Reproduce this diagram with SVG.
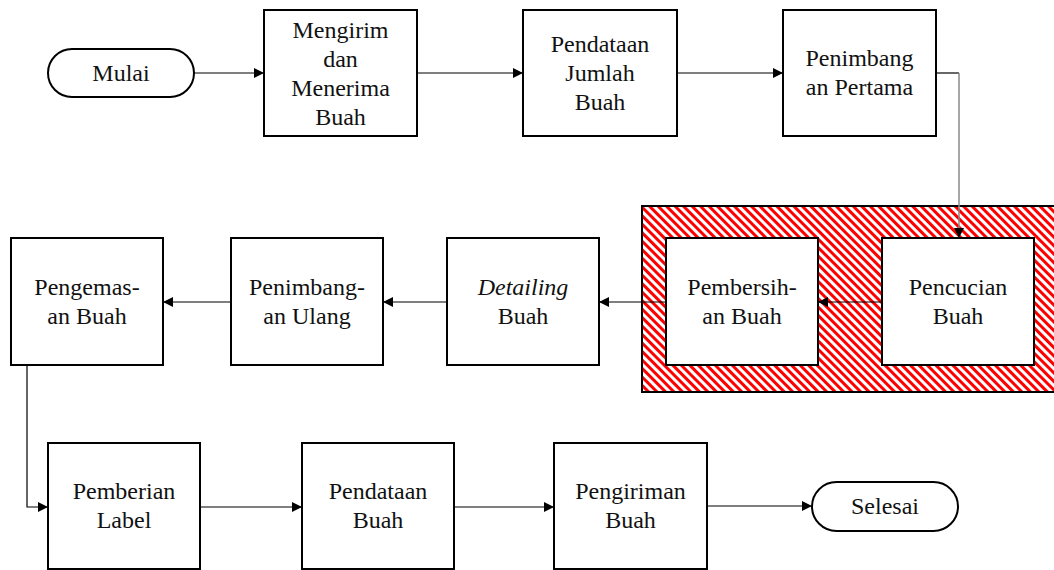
<svg xmlns="http://www.w3.org/2000/svg" width="1054" height="570" viewBox="0 0 1054 570">
<defs>
<style>
text{font-family:'Times New Roman','Liberation Serif',serif;font-size:24px;fill:#111;text-anchor:middle}
.box{fill:#fff;stroke:#000;stroke-width:2}
</style>
<marker id="ah" viewBox="0 0 10 10" refX="10" refY="5" markerWidth="10" markerHeight="10" markerUnits="userSpaceOnUse" orient="auto">
<path d="M0,0 L10,5 L0,10 z" fill="#000"/>
</marker>
<pattern id="hatch" patternUnits="userSpaceOnUse" width="6" height="6" patternTransform="rotate(-45)">
<rect width="6" height="6" fill="#fff"/>
<rect width="3" height="6" fill="#f00"/>
</pattern>
</defs>
<rect width="1054" height="570" fill="#fff"/>
<g id="group-hatch">
<rect x="642" y="206" width="420" height="186" fill="url(#hatch)" stroke="#000" stroke-width="2"/>
</g>
<g id="connectors" fill="none" stroke="#000" stroke-width="1.2">
<line x1="194" y1="73" x2="264" y2="73" marker-end="url(#ah)"/>
<line x1="417" y1="73" x2="523" y2="73" marker-end="url(#ah)"/>
<line x1="677" y1="73" x2="783" y2="73" marker-end="url(#ah)"/>
<polyline points="936,73 959,73"/>
<line x1="959" y1="73" x2="959" y2="238" stroke="#888" stroke-width="1.5" marker-end="url(#ah)"/>
<line x1="882" y1="302" x2="818" y2="302" marker-end="url(#ah)"/>
<line x1="666" y1="302" x2="599" y2="302" marker-end="url(#ah)"/>
<line x1="447" y1="302" x2="383" y2="302" marker-end="url(#ah)"/>
<line x1="231" y1="302" x2="163" y2="302" marker-end="url(#ah)"/>
<polyline points="27,365 27,507 48,507" marker-end="url(#ah)"/>
<line x1="200" y1="507" x2="302" y2="507" marker-end="url(#ah)"/>
<line x1="454" y1="507" x2="554" y2="507" marker-end="url(#ah)"/>
<line x1="707" y1="506" x2="812" y2="506" marker-end="url(#ah)"/>
</g>
<g id="mulai">
<rect class="box" x="48" y="49" width="146" height="48" rx="24" ry="24"/>
<text x="121" y="81">Mulai</text>
</g>
<g id="mengirim">
<rect class="box" x="264" y="10" width="153" height="126"/>
<text x="340.5" y="38">Mengirim</text>
<text x="340.5" y="67">dan</text>
<text x="340.5" y="96">Menerima</text>
<text x="340.5" y="125">Buah</text>
</g>
<g id="pendataan-jumlah">
<rect class="box" x="523" y="10" width="154" height="126"/>
<text x="600" y="52">Pendataan</text>
<text x="600" y="81">Jumlah</text>
<text x="600" y="110">Buah</text>
</g>
<g id="penimbangan-pertama">
<rect class="box" x="783" y="10" width="153" height="126"/>
<text x="859.5" y="66">Penimbang</text>
<text x="859.5" y="95">an Pertama</text>
</g>
<g id="pencucian">
<rect class="box" x="882" y="238" width="152" height="127"/>
<text x="958" y="295">Pencucian</text>
<text x="958" y="324">Buah</text>
</g>
<g id="pembersihan">
<rect class="box" x="666" y="238" width="152" height="127"/>
<text x="742" y="295">Pembersih-</text>
<text x="742" y="324">an Buah</text>
</g>
<g id="detailing">
<rect class="box" x="447" y="238" width="152" height="127"/>
<text x="523" y="295" font-style="italic">Detailing</text>
<text x="523" y="324">Buah</text>
</g>
<g id="penimbangan-ulang">
<rect class="box" x="231" y="238" width="152" height="127"/>
<text x="307" y="295">Penimbang-</text>
<text x="307" y="324">an Ulang</text>
</g>
<g id="pengemasan">
<rect class="box" x="11" y="238" width="152" height="127"/>
<text x="87" y="295">Pengemas-</text>
<text x="87" y="324">an Buah</text>
</g>
<g id="pemberian-label">
<rect class="box" x="48" y="443" width="152" height="126"/>
<text x="124" y="499">Pemberian</text>
<text x="124" y="528">Label</text>
</g>
<g id="pendataan-buah">
<rect class="box" x="302" y="443" width="152" height="126"/>
<text x="378" y="499">Pendataan</text>
<text x="378" y="528">Buah</text>
</g>
<g id="pengiriman-buah">
<rect class="box" x="554" y="443" width="153" height="126"/>
<text x="630.5" y="499">Pengiriman</text>
<text x="630.5" y="528">Buah</text>
</g>
<g id="selesai">
<rect class="box" x="812" y="482" width="146" height="49" rx="24.5" ry="24.5"/>
<text x="885" y="514">Selesai</text>
</g>
</svg>
